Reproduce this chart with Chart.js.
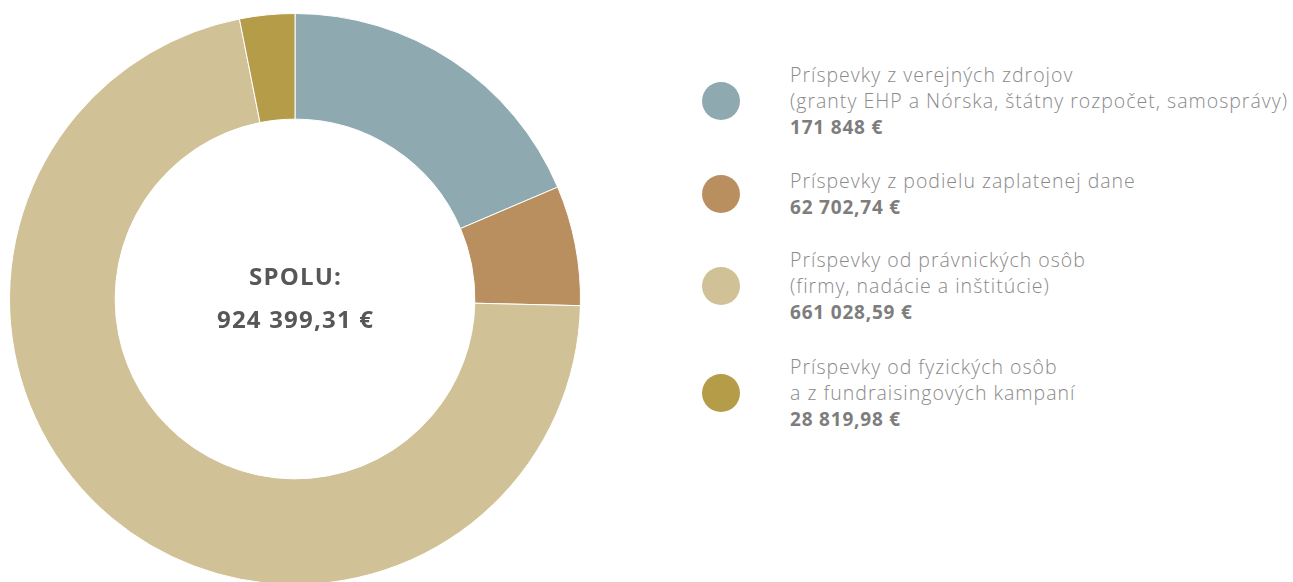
<!DOCTYPE html>
<html lang="sk">
<head>
<meta charset="utf-8">
<script src="https://cdn.jsdelivr.net/npm/chart.js@4/dist/chart.umd.min.js"></script>
<style>
  html, body { margin: 0; padding: 0; background: #fff; width: 1293px; height: 582px; overflow: hidden; }
  #wrap { position: absolute; left: 9px; top: 13px; width: 572px; height: 572px; }
  #legend { position: absolute; left: 702px; top: 0; font-family: "Open Sans", Lato, sans-serif; }
  .item { position: absolute; left: 0; white-space: nowrap; }
  .dot { position: absolute; left: 0; width: 38px; height: 38px; border-radius: 50%; }
  .txt { position: absolute; left: 88px; color: #8a8a8a; font-size: 19.5px; line-height: 26px; font-weight: 300; letter-spacing: 1px; }
  .txt b { color: #7d7d7d; font-weight: 700; font-size: 19px; letter-spacing: 0.8px; }
</style>
</head>
<body>
<div id="wrap"><canvas id="c"></canvas></div>
<div id="legend"></div>
<script>
// Príjmy podľa zdroja
const labels = [
  ["Príspevky z verejných zdrojov", "(granty EHP a Nórska, štátny rozpočet, samosprávy)"],
  ["Príspevky z podielu zaplatenej dane"],
  ["Príspevky od právnických osôb", "(firmy, nadácie a inštitúcie)"],
  ["Príspevky od fyzických osôb", "a z fundraisingových kampaní"]
];
const amounts = [171848, 62702.74, 661028.59, 28819.98];
const amountText = ["171 848 €", "62 702,74 €", "661 028,59 €", "28 819,98 €"];
const colors = ["#8fa9b0", "#b98f5f", "#d1c196", "#b49c48"];
const totalLabel = "SPOLU:";
const totalText = "924 399,31 €";

// legend block positions (top of first text line)
const blockTops = [62, 168, 247, 354];

const legend = document.getElementById('legend');
labels.forEach((lines, i) => {
  const item = document.createElement('div');
  item.className = 'item';
  item.style.top = blockTops[i] + 'px';
  const nLines = lines.length + 1;
  const dot = document.createElement('div');
  dot.className = 'dot';
  dot.style.background = colors[i];
  dot.style.top = (nLines * 26 / 2 - 19) + 'px';
  const txt = document.createElement('div');
  txt.className = 'txt';
  txt.innerHTML = lines.join('<br>') + '<br><b>' + amountText[i] + '</b>';
  item.appendChild(dot);
  item.appendChild(txt);
  legend.appendChild(item);
});

const centerText = {
  id: 'centerText',
  afterDraw(chart) {
    const { ctx } = chart;
    const meta = chart.getDatasetMeta(0).data[0];
    const x = meta.x, y = meta.y;
    const ls = 1.2;
    ctx.save();
    ctx.fillStyle = '#575757';
    ctx.textAlign = 'center';
    ctx.textBaseline = 'middle';
    ctx.font = '700 24px "Open Sans", Lato, sans-serif';
    ctx.letterSpacing = ls + 'px';
    ctx.fillText(totalLabel, x + ls / 2, y - 21);
    ctx.fillText(totalText, x + ls / 2, y + 22);
    ctx.restore();
  }
};

new Chart(document.getElementById('c'), {
  type: 'doughnut',
  data: {
    labels: labels.map(l => l[0]),
    datasets: [{
      data: amounts,
      backgroundColor: colors,
      borderColor: '#ffffff',
      borderWidth: 1
    }]
  },
  options: {
    responsive: true,
    maintainAspectRatio: false,
    animation: false,
    cutout: '63%',
    layout: { padding: 0 },
    plugins: {
      legend: { display: false },
      tooltip: { enabled: false }
    }
  },
  plugins: [centerText]
});
</script>
</body>
</html>
